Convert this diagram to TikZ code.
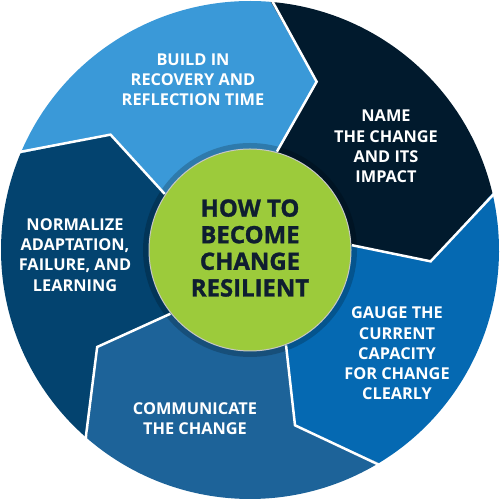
\documentclass[tikz,border=0pt]{standalone}
\usepackage{fontspec}
\setmainfont{Open Sans}
\newfontfamily\hubfont{Open Sans}[BoldFeatures={FakeBold=1.2}]
\definecolor{cLight}{HTML}{3A99D8}
\definecolor{cNavy}{HTML}{011A2D}
\definecolor{cMid}{HTML}{0569B2}
\definecolor{cSteel}{HTML}{1D6399}
\definecolor{cLeft}{HTML}{03436F}
\definecolor{cGreen}{HTML}{9CCB3B}
\definecolor{cText}{HTML}{0F1E30}
\tikzset{
  seglabel/.style={text=white, font=\fontsize{16.4}{20.3}\selectfont\bfseries, align=center, inner sep=0pt},
  centerlabel/.style={text=cText, font=\hubfont\fontsize{24}{26.7}\selectfont\bfseries, align=center, inner sep=0pt},
  sepline/.style={white, line width=2.5bp, line join=miter},
}
\begin{document}
\begin{tikzpicture}[x=1bp,y=1bp]
\useasboundingbox (0,0) rectangle (500,500);
\begin{scope}[shift={(250,250)}]
  \foreach \a/\c in {157.2/cLight, 85.2/cNavy, 13.2/cMid, -58.8/cSteel, -130.8/cLeft} {
    \fill[\c] (0,0) -- (\a-10.5:102) -- (\a-16.8:181) -- (\a:249)
      arc[start angle=\a, end angle=\a-72, radius=249]
      -- (\a-88.8:181) -- (\a-82.5:102) -- cycle;
  }
  \fill[black, opacity=0.2] (0,0) circle (107);
  \foreach \a in {157.2, 85.2, 13.2, -58.8, -130.8} {
    \draw[sepline] (\a:252) -- (\a-16.8:181) -- (\a-10.5:102);
  }
  \fill[cGreen, draw=gray!45, line width=1bp] (0,0) circle (101);
\end{scope}
\node[seglabel] (build) at (193,420.5) {BUILD IN\\RECOVERY AND\\REFLECTION TIME};
\node[seglabel] (name) at (386,353.5) {NAME\\THE CHANGE\\AND ITS\\IMPACT};
\node[seglabel] (gauge) at (397,146.5) {GAUGE THE\\CURRENT\\CAPACITY\\FOR CHANGE\\CLEARLY};
\node[seglabel] (comm) at (195,81.5) {COMMUNICATE\\THE CHANGE};
\node[seglabel] (norm) at (75,245) {NORMALIZE\\ADAPTATION,\\FAILURE, AND\\LEARNING};
\node[centerlabel] (hub) at (250,252) {HOW TO\\BECOME\\CHANGE\\RESILIENT};
\end{tikzpicture}
\end{document}
